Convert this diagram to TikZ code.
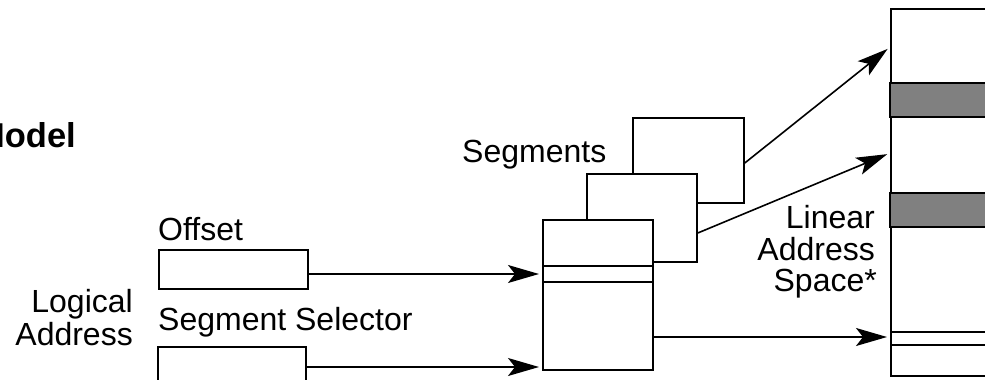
\documentclass[tikz,border=0pt]{standalone}
\usepackage{fontspec}
\setmainfont{Liberation Sans}
\usetikzlibrary{arrows.meta}
\begin{document}
\begin{tikzpicture}[x=1pt,y=-1pt,
  every node/.style={font=\fontsize{32pt}{34pt}\selectfont, inner sep=0pt},
  box/.style={draw, fill=white, line width=1.8pt, inner sep=0pt, anchor=north west},
  band/.style={draw, fill=black!50, line width=1.8pt},
  arr/.style={line width=1.6pt, shorten >=3pt,
    -{Stealth[length=31pt, width=18pt, inset=7pt]}},
  lbl/.style={anchor=base west},
  rlbl/.style={anchor=base east}]
\clip (0,0) rectangle (985,380);
\useasboundingbox (0,0) rectangle (985,380);

% heading (runs off the left edge)
\node[rlbl, font=\fontsize{34.5pt}{36pt}\selectfont\bfseries] (model) at (76,147) {Model};

% logical address fields
\node[box, minimum width=149pt, minimum height=39pt] (offbox) at (158,249) {};
\node[box, minimum width=148pt, minimum height=60pt] (selbox) at (157,346) {};
\node[lbl] (offlbl) at (158,240) {Offset};
\node[lbl] (sellbl) at (158,330) {Segment Selector};
\node[rlbl] (log1) at (133,312) {Logical};
\node[rlbl] (log2) at (133,345) {Address};

% stacked segments
\node[box, minimum width=111pt, minimum height=85pt] (segC) at (632,117) {};
\node[box, minimum width=110pt, minimum height=88pt] (segB) at (586,173) {};
\node[box, minimum width=110pt, minimum height=150pt] (segA) at (542,219) {};
\draw[line width=1.8pt] (542,266) -- (652,266) (542,282) -- (652,282);
\node[lbl] (seglbl) at (462,162) {Segments};

% linear address space
\node[box, minimum width=130pt, minimum height=367pt] (lin) at (890,8) {};
\draw[band] (890,83) rectangle (1030,117);
\draw[band] (890,193) rectangle (1030,227);
\draw[line width=1.8pt] (890,332) -- (1030,332) (890,345) -- (1030,345);
\node[rlbl] (lin1) at (875,228) {Linear};
\node[rlbl] (lin2) at (875,260) {Address};
\node[rlbl] (lin3) at (877,291) {Space*};

% connectors
\coordinate (offslot) at (542,274);
\coordinate (selin) at (542,367);
\draw[arr] (offbox.east |- offslot) -- (offslot);
\draw[arr] (selbox.east |- selin) -- (selin);
\draw[arr] (segA.east |- 0,337) -- (lin.west |- 0,337);
\draw[arr] (segB.east |- 0,233) -- (lin.west |- 0,153);
\draw[arr] (segC.east |- 0,163) -- (lin.west |- 0,47);
\end{tikzpicture}
\end{document}
